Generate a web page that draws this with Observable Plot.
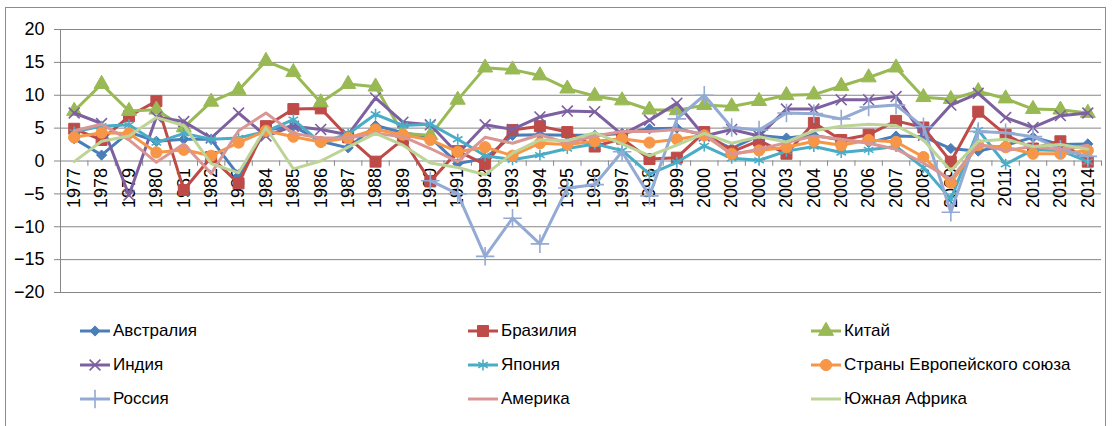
<!DOCTYPE html>
<html><head><meta charset="utf-8">
<script src="https://cdn.jsdelivr.net/npm/d3@7"></script>
<script src="https://cdn.jsdelivr.net/npm/@observablehq/plot@0.6"></script>
<style>
body{margin:0;background:#fff;font-family:"Liberation Sans",Arial,sans-serif;width:1113px;height:426px;overflow:hidden;position:relative;}
#frame{position:absolute;left:5px;top:7px;width:1101px;height:440px;border:1px solid #8c8c8c;box-sizing:border-box;}
#chart{position:absolute;left:0;top:0;}
.item{position:absolute;display:flex;align-items:center;font-size:17px;color:#000;height:22px;white-space:nowrap;}
.item svg{margin-right:3px;overflow:visible;}
</style></head><body>
<div id="frame"></div><div id="chart"></div><div id="legend"></div>
<script>
const years = [1977,1978,1979,1980,1981,1982,1983,1984,1985,1986,1987,1988,1989,1990,1991,1992,1993,1994,1995,1996,1997,1998,1999,2000,2001,2002,2003,2004,2005,2006,2007,2008,2009,2010,2011,2012,2013,2014];
const yTicks = [-20,-15,-10,-5,0,5,10,15,20];

const australia = [3.4,0.9,4.4,3.0,3.3,3.3,-2.2,4.7,5.3,3.0, 2.0,5.4,4.3,3.6,-0.4,0.4,3.9,4.0,3.9,3.9, 4.2,4.9,5.0,3.9,1.9,3.9,3.5,3.9,3.2,2.8, 3.8,3.7,1.9,1.5,2.4,3.6,2.5,2.6];
const brazil = [4.9,3.2,6.8,9.1,-4.4,0.6,-3.4,5.3,7.9,8.0, 3.6,-0.1,3.3,-3.1,1.5,-0.5,4.7,5.3,4.4,2.2, 3.4,0.3,0.5,4.4,1.4,3.1,1.1,5.8,3.2,4.0, 6.1,5.1,-0.1,7.5,4.0,1.9,3.0,-0.1];
const china = [7.6,11.7,7.6,7.8,5.1,9.0,10.8,15.2,13.5,8.9, 11.7,11.3,4.2,3.9,9.3,14.2,13.9,13.0,11.0,9.9, 9.2,7.8,7.7,8.5,8.3,9.1,10.0,10.1,11.4,12.7, 14.2,9.7,9.4,10.6,9.5,7.9,7.8,7.3];
const india = [7.3,5.7,-5.2,6.7,6.0,3.5,7.3,3.8,5.3,4.8, 4.0,9.6,5.9,5.5,1.1,5.5,4.8,6.7,7.6,7.5, 4.0,6.2,8.8,3.8,4.8,3.8,7.9,7.9,9.3,9.3, 9.8,3.9,8.5,10.3,6.6,5.1,6.9,7.3];
const japan = [4.4,5.3,5.5,2.8,4.2,3.3,3.5,4.5,6.3,2.8, 4.1,7.1,5.4,5.6,3.3,0.8,0.2,0.9,1.9,2.6, 1.6,-2.0,-0.2,2.3,0.4,0.1,1.5,2.2,1.3,1.7, 2.2,-1.0,-5.8,4.7,-0.5,1.7,1.6,-0.1];
const eu = [3.6,4.3,4.2,1.3,1.7,0.8,2.8,4.6,3.7,2.9, 3.5,4.8,4.0,3.2,1.4,2.1,0.8,2.7,2.5,3.0, 3.4,2.8,3.3,3.9,1.1,1.6,2.1,3.0,2.4,3.2, 2.9,0.6,-3.3,2.4,2.1,1.1,1.1,1.6];
const russia = [null,null,null,null,null,null,null,null,null,null, null,null,null,-3.0,-5.0,-14.5,-8.7,-12.6,-4.1,-3.6, 1.4,-5.3,6.4,10.0,5.1,4.7,7.3,7.2,6.4,8.2, 8.5,5.2,-7.8,4.5,4.3,3.7,1.8,0.7];
const america = [4.6,5.6,3.2,-0.2,2.6,-1.9,4.6,7.3,4.2,3.5, 3.5,4.2,3.7,1.9,-0.1,3.6,2.7,4.0,2.7,3.8, 4.5,4.5,4.8,4.1,1.0,1.8,2.8,3.8,3.3,2.7, 1.8,-0.3,-2.8,2.5,1.6,2.2,1.7,2.4];
const southAfrica = [-0.1,3.0,3.8,6.6,5.4,-0.4,-1.8,5.1,-1.2,0.0, 2.1,4.2,2.4,-0.3,-1.0,-2.1,1.2,3.2,3.1,4.3, 2.6,0.8,2.4,4.2,2.7,3.7,2.9,4.6,5.3,5.6, 5.4,3.2,-1.5,3.0,3.3,2.2,2.5,1.8];

const seriesNames = ["Австралия","Бразилия","Китай","Индия","Япония","Страны Европейского союза","Россия","Америка","Южная Африка"];
const seriesValues = [australia,brazil,china,india,japan,eu,russia,america,southAfrica];
const colors = ["#4A7EBB","#BE4B48","#98B954","#7D60A0","#4BACC6","#F79646","#93AAD4","#D99694","#BDD497"];
const symbols = ["diamond2","square","triangle","times","asterisk","circle","plus",null,null];
const radii = [4.6,6.2,5.6,5,5.2,5.6,6,0,0];
const filled = [true,true,true,false,false,true,false,false,false];

const marks = [];
const boundaries = [years[0]-0.5, ...years.map(y => y + 0.5)];
const pxPerYear = (1101 - 60) / years.length;
marks.push(Plot.ruleY(yTicks, {x1: years[0]-0.5 - 6/pxPerYear, x2: years[years.length-1]+0.5, stroke: "#868686", strokeWidth: 1}));
marks.push(Plot.ruleX([years[0]-0.5], {y1: yTicks[0], y2: yTicks[yTicks.length-1], stroke: "#868686", strokeWidth: 1}));
marks.push(Plot.ruleX(boundaries, {y1: 0, y2: -0.8, stroke: "#868686", strokeWidth: 1}));
marks.push(Plot.axisY({ticks: yTicks, tickSize: 0, tickPadding: 16, fontSize: 18, color: "#000", label: null}));
marks.push(Plot.text(years, {x: d => d, y: 0, text: d => String(d), rotate: -90, textAnchor: "end", dy: 7, fontSize: 18, fill: "#000"}));

seriesNames.forEach((name, i) => {
  const rows = years.map((yr, j) => ({year: yr, value: seriesValues[i][j]}));
  marks.push(Plot.line(rows, {x: "year", y: "value", stroke: colors[i], strokeWidth: 3, strokeLinejoin: "round", strokeLinecap: "round"}));
  if (symbols[i]) {
    const pts = rows.filter(r => r.value != null);
    marks.push(Plot.dot(pts, {x: "year", y: "value", symbol: symbols[i], r: radii[i],
      fill: filled[i] ? colors[i] : "none", stroke: colors[i], strokeWidth: filled[i] ? 1 : 1.6}));
  }
});

const chart = Plot.plot({
  width: 1113, height: 300,
  marginLeft: 60, marginRight: 12, marginTop: 29, marginBottom: 8,
  x: {domain: [years[0]-0.5, years[years.length-1]+0.5], axis: null},
  y: {domain: [yTicks[0], yTicks[yTicks.length-1]]},
  style: {fontFamily: "Liberation Sans, Arial, sans-serif", background: "transparent", overflow: "visible"},
  marks
});
document.getElementById("chart").appendChild(chart);

// legend
const symMap = {diamond2: d3.symbolDiamond2, square: d3.symbolSquare, triangle: d3.symbolTriangle, times: d3.symbolTimes, asterisk: d3.symbolAsterisk, circle: d3.symbolCircle, plus: d3.symbolPlus};
const colX = [80, 468, 811];
const rowY = [331, 365, 399];
const legend = document.getElementById("legend");
seriesNames.forEach((name, i) => {
  const div = document.createElement("div");
  div.className = "item";
  div.style.left = colX[i % 3] + "px";
  div.style.top = (rowY[Math.floor(i / 3)] - 11) + "px";
  let svg = `<svg width="30" height="22"><line x1="0" x2="30" y1="11" y2="11" stroke="${colors[i]}" stroke-width="3"/>`;
  if (symbols[i]) {
    const r = radii[i];
    const p = d3.symbol(symMap[symbols[i]], Math.PI * r * r)();
    svg += `<path transform="translate(15,11)" d="${p}" fill="${filled[i] ? colors[i] : "none"}" stroke="${colors[i]}" stroke-width="${filled[i] ? 1 : 1.6}"/>`;
  }
  svg += `</svg>`;
  div.innerHTML = svg + `<span>${name}</span>`;
  legend.appendChild(div);
});
</script>
</body></html>
